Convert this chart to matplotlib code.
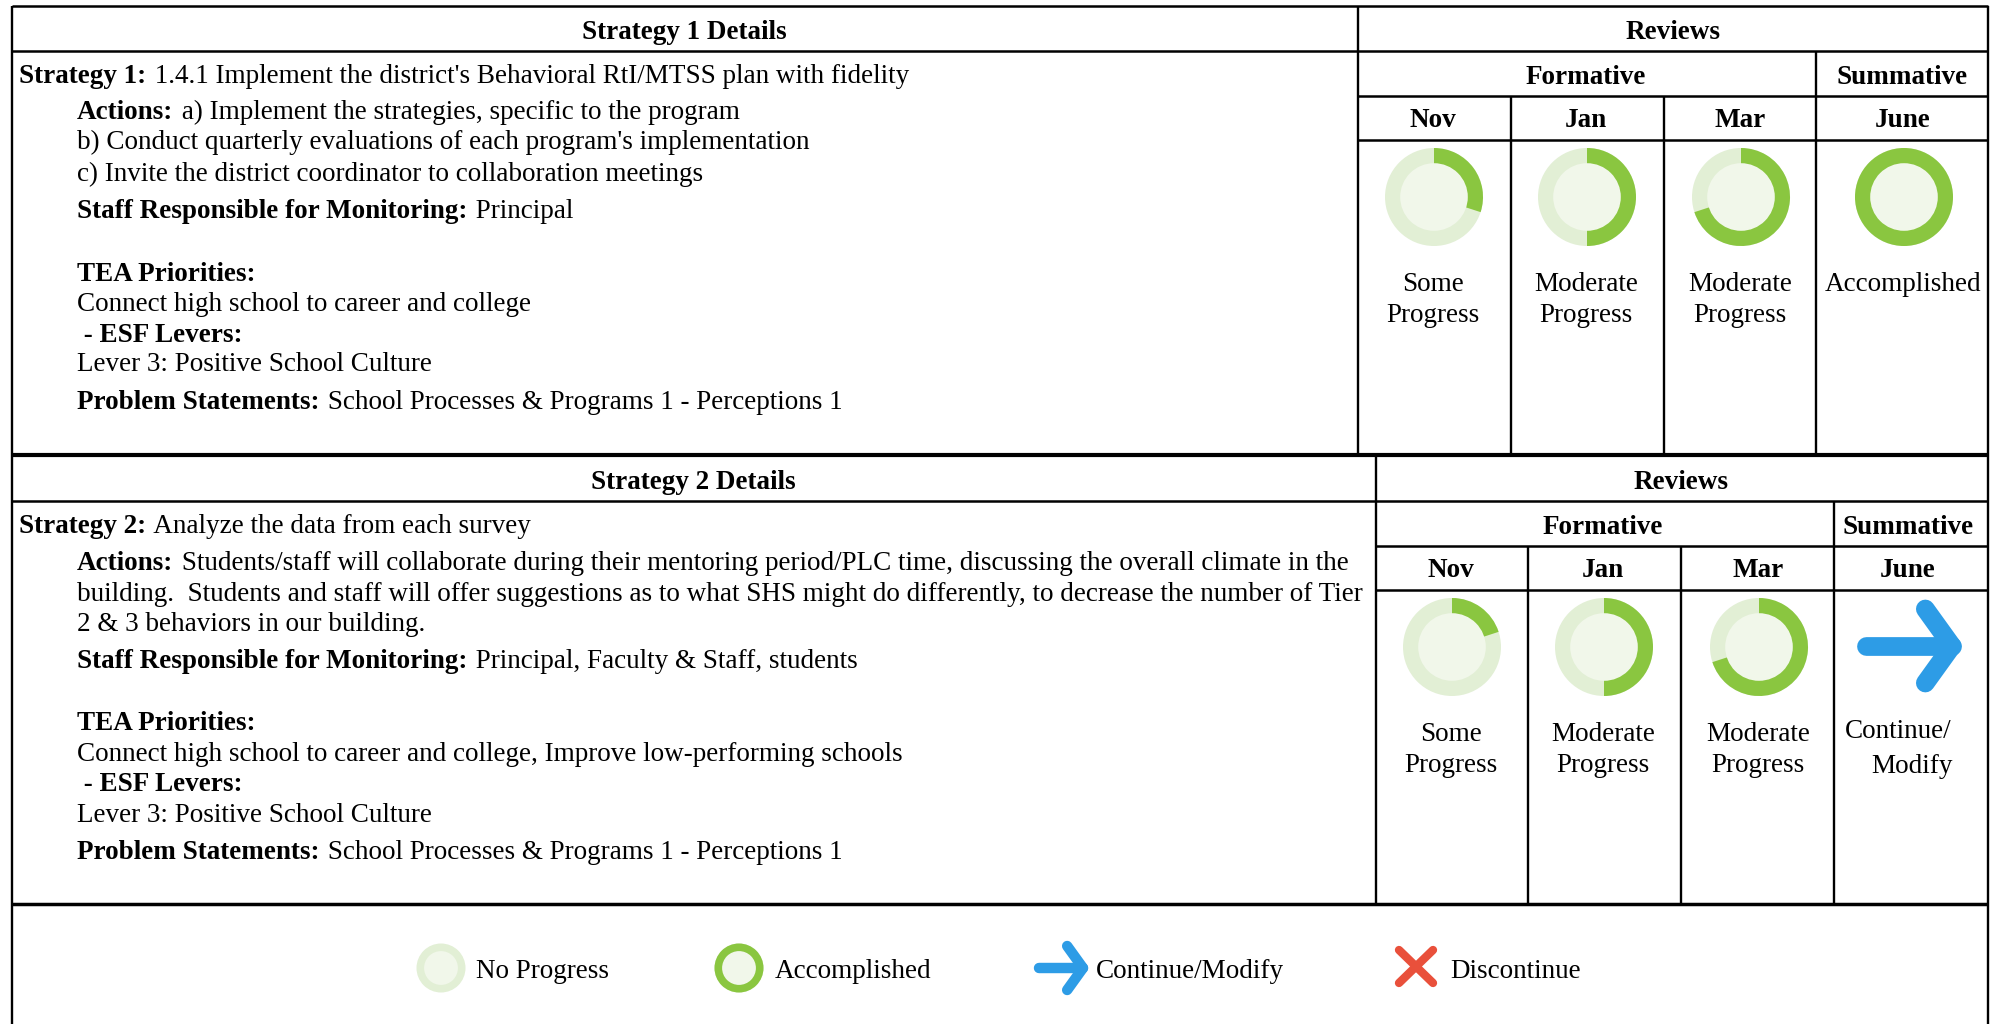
import matplotlib
matplotlib.use("Agg")
import matplotlib.pyplot as plt
from matplotlib.patches import Circle, Wedge

plt.rcParams["font.family"] = ["Liberation Serif", "DejaVu Serif"]

GREEN = "#8AC640"
RING = "#E2EFD5"
INNER = "#F1F7EA"
BLUE = "#2D9CE6"
RED = "#E9503B"
FS = 19.5

months = ["Nov", "Jan", "Mar", "June"]

# fraction of ring filled in each review
progress_1 = [0.30, 0.50, 0.70, 1.0]
progress_2 = [0.20, 0.50, 0.70, None]
labels_1 = ["Some\nProgress", "Moderate\nProgress", "Moderate\nProgress", "Accomplished"]
labels_2 = ["Some\nProgress", "Moderate\nProgress", "Moderate\nProgress", None]

# (indent, y baseline, bold part, regular part)
lines_1 = [
    (19, 83, "Strategy 1:", " 1.4.1 Implement the district's Behavioral RtI/MTSS plan with fidelity"),
    (77, 119, "Actions:", " a) Implement the strategies, specific to the program"),
    (77, 149, "", "b) Conduct quarterly evaluations of each program's implementation"),
    (77, 181, "", "c) Invite the district coordinator to collaboration meetings"),
    (77, 218, "Staff Responsible for Monitoring:", " Principal"),
    (77, 281, "TEA Priorities:", ""),
    (77, 311, "", "Connect high school to career and college"),
    (77, 342, " - ESF Levers:", ""),
    (77, 371, "", "Lever 3: Positive School Culture"),
    (77, 409, "Problem Statements:", " School Processes & Programs 1 - Perceptions 1"),
]
lines_2 = [
    (19, 533, "Strategy 2:", " Analyze the data from each survey"),
    (77, 570, "Actions:", " Students/staff will collaborate during their mentoring period/PLC time, discussing the overall climate in the"),
    (77, 601, "", "building.  Students and staff will offer suggestions as to what SHS might do differently, to decrease the number of Tier"),
    (77, 631, "", "2 & 3 behaviors in our building."),
    (77, 668, "Staff Responsible for Monitoring:", " Principal, Faculty & Staff, students"),
    (77, 730, "TEA Priorities:", ""),
    (77, 761, "", "Connect high school to career and college, Improve low-performing schools"),
    (77, 791, " - ESF Levers:", ""),
    (77, 822, "", "Lever 3: Positive School Culture"),
    (77, 859, "Problem Statements:", " School Processes & Programs 1 - Perceptions 1"),
]

legend_labels = ["No Progress", "Accomplished", "Continue/Modify", "Discontinue"]

fig = plt.figure(figsize=(19.97, 10.24), dpi=100)
ax = fig.add_axes([0, 0, 1, 1])
ax.set_xlim(0, 1997)
ax.set_ylim(1024, 0)
ax.axis("off")


def hline(y, x0, x1, lw=1.8):
    ax.plot([x0, x1], [y, y], color="black", lw=lw, solid_capstyle="butt")


def vline(x, y0, y1, lw=1.7):
    ax.plot([x, x], [y0, y1], color="black", lw=lw, solid_capstyle="butt")


def rich(x, y, bold, regular):
    if bold:
        t = ax.text(x, y, bold, fontsize=FS, fontweight="bold", va="baseline")
        bb = t.get_window_extent(fig.canvas.get_renderer())
        x = x + bb.width + 1.5
        if bold.startswith(" "):
            x += 5
    if regular:
        ax.text(x, y, regular, fontsize=FS, va="baseline")


def donut(cx, cy, r, frac):
    ax.add_patch(Circle((cx, cy), r, color=RING, lw=0))
    if frac:
        if frac >= 1:
            ax.add_patch(Circle((cx, cy), r, color=GREEN, lw=0))
        else:
            ax.add_patch(Wedge((cx, cy), r, -90, -90 + 360 * frac, color=GREEN, lw=0))
    ax.add_patch(Circle((cx, cy), r * 0.69, color=INNER, lw=0))


def arrow(x0, x1, cy, half, lw):
    head = x1 - half * 0.72
    ax.plot([x0, x1], [cy, cy], color=BLUE, lw=lw, solid_capstyle="round")
    ax.plot([head, x1, head], [cy - half, cy, cy + half], color=BLUE, lw=lw,
            solid_capstyle="round", solid_joinstyle="round")


def block(top, bottom, split, vx, review_x, form_x, summ_x, head_x, lines, progress, labels, donut_x):
    hline(top + 45, 12, 1988)
    hline(top + 90, split, 1988)
    hline(top + 134, split, 1988)
    vline(split, top, bottom)
    vline(vx[2], top + 45, bottom)
    for x in vx[:2]:
        vline(x, top + 90, bottom)

    ax.text(head_x[0], top + 33, head_x[1], fontsize=FS, fontweight="bold", ha="center", va="baseline")
    ax.text(review_x, top + 33, "Reviews", fontsize=FS, fontweight="bold", ha="center", va="baseline")
    ax.text(form_x, top + 78, "Formative", fontsize=FS, fontweight="bold", ha="center", va="baseline")
    ax.text(summ_x, top + 78, "Summative", fontsize=FS, fontweight="bold", ha="center", va="baseline")
    for m, x in zip(months, donut_x):
        ax.text(x, top + 121, m, fontsize=FS, fontweight="bold", ha="center", va="baseline")
    for ln in lines:
        rich(*ln)
    for x, p, lab in zip(donut_x, progress, labels):
        if p is None:
            continue
        donut(x + 1, top + 191, 49, p)
        for k, part in enumerate(lab.split("\n")):
            ax.text(x, top + 285 + 31 * k, part, fontsize=FS, ha="center", va="baseline")


# outer frame
hline(6, 12, 1988)
vline(12, 6, 1024)
vline(1988, 6, 1024)

block(6, 454, 1358, [1511, 1664, 1816], 1673, 1586, 1902, (684, "Strategy 1 Details"),
      lines_1, progress_1, labels_1, [1433, 1586, 1740, 1903])
block(456, 904, 1376, [1528, 1681, 1834], 1681, 1603, 1908, (693, "Strategy 2 Details"),
      lines_2, progress_2, labels_2, [1451, 1603, 1758, 1908])
hline(455, 12, 1988, lw=3.0)
hline(904, 12, 1988, lw=2.5)

# continue arrow for June in strategy 2
arrow(1866, 1952, 646, 37, 13.5)
ax.text(1845, 738, "Continue/", fontsize=FS, va="baseline")
ax.text(1871, 773, "Modify", fontsize=FS, va="baseline")

# legend
donut(441, 968, 24.5, 0)
ax.text(476, 978, legend_labels[0], fontsize=FS, va="baseline")
donut(739, 968, 24.5, 1.0)
ax.text(775, 978, legend_labels[1], fontsize=FS, va="baseline")
arrow(1039, 1083, 968, 22, 7.5)
ax.text(1096, 978, legend_labels[2], fontsize=FS, va="baseline")
ax.plot([1399, 1433], [950, 983], color=RED, lw=6, solid_capstyle="round")
ax.plot([1399, 1433], [983, 950], color=RED, lw=6, solid_capstyle="round")
ax.text(1450, 978, legend_labels[3], fontsize=FS, va="baseline")

fig.savefig("out.png", dpi=100, facecolor="white")
